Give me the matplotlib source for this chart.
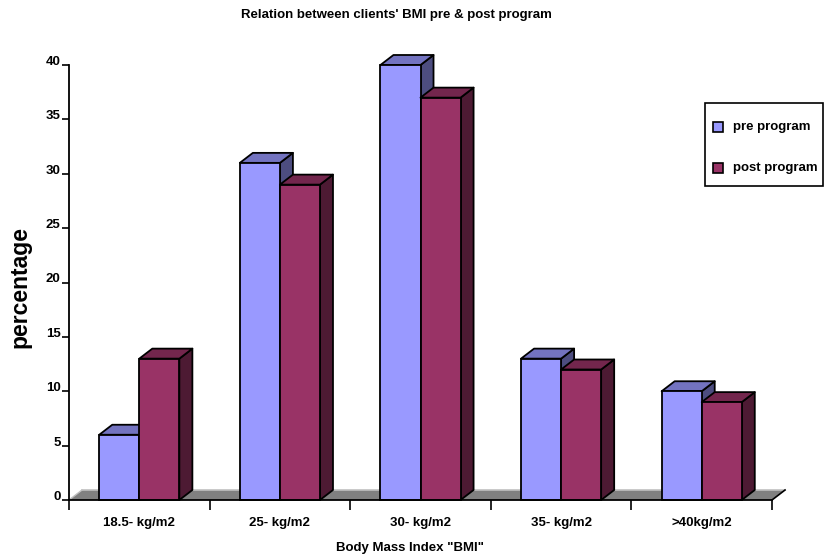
import matplotlib
matplotlib.use("Agg")
import matplotlib.pyplot as plt
from matplotlib.patches import Polygon, Rectangle

plt.rcParams["font.family"] = ["Liberation Sans", "DejaVu Sans"]
plt.rcParams["font.weight"] = "bold"

categories = ["18.5- kg/m2", "25- kg/m2", "30- kg/m2", "35- kg/m2", ">40kg/m2"]
series_names = ["pre program", "post program"]
pre_program = [6, 31, 40, 13, 10]
post_program = [13, 29, 37, 12, 9]

pre_colors = ("#9999FF", "#7373C0", "#4D4D80")     # front, top, side
post_colors = ("#993366", "#73264D", "#4D1A33")

W, H = 825, 560
fig = plt.figure(figsize=(W / 100, H / 100), dpi=100)
ax = fig.add_axes([69 / W, 60 / H, (772 - 69) / W, (500 - 65) / H])
ax.set_xlim(0, len(categories))
ax.set_ylim(0, 40)

# depth offset for the fake 3d look
dx = 13 / 140.4
dy = 10 / 10.875
bw = 40 / 140.4

# floor
n = len(categories)
ax.add_patch(Polygon([(0, 0), (n, 0), (n + dx, dy), (dx, dy)], closed=True,
                     facecolor="#808080", edgecolor="none", zorder=1, clip_on=False))
ax.plot([dx, n + dx], [dy, dy], color="#C0C0C0", lw=1.2, zorder=1, clip_on=False)
ax.plot([0, dx], [0, dy], color="#C0C0C0", lw=1, zorder=1, clip_on=False)
ax.plot([n, n + dx], [0, dy], color="black", lw=1.2, zorder=2, clip_on=False)


def box(x0, h, cols, z):
    x1 = x0 + bw
    side = [(x1, 0), (x1 + dx, dy), (x1 + dx, h + dy), (x1, h)]
    top = [(x0, h), (x0 + dx, h + dy), (x1 + dx, h + dy), (x1, h)]
    ax.add_patch(Polygon(side, closed=True, facecolor=cols[2], edgecolor="black",
                         lw=1.3, zorder=z, clip_on=False, joinstyle="round"))
    ax.add_patch(Polygon(top, closed=True, facecolor=cols[1], edgecolor="black",
                         lw=1.3, zorder=z, clip_on=False, joinstyle="round"))
    ax.bar(x0, h, width=bw, align="edge", color=cols[0], edgecolor="black",
           lw=1.3, zorder=z + 0.5, clip_on=False)


for i in range(n):
    c = i + 0.5
    box(c - bw, pre_program[i], pre_colors, 3 + i * 2)
    box(c, post_program[i], post_colors, 4 + i * 2)

for s in ["top", "right"]:
    ax.spines[s].set_visible(False)
ax.spines["left"].set_linewidth(1.3)
ax.spines["bottom"].set_linewidth(1.3)
ax.spines["left"].set_zorder(20)
ax.spines["bottom"].set_zorder(20)

ax.set_yticks(range(0, 41, 5))
ax.tick_params(axis="y", direction="out", length=5, width=1.2, labelsize=9.5, pad=1)
ax.set_xticks(range(n + 1))
ax.set_xticklabels([])
ax.tick_params(axis="x", which="major", direction="out", length=7, width=1.2)
ax.set_xticks([i + 0.5 for i in range(n)], minor=True)
ax.set_xticklabels(categories, minor=True)
ax.tick_params(axis="x", which="minor", length=0, labelsize=9.5, pad=12)
for lab in ax.get_yticklabels():
    lab.set_fontweight("bold")
    lab.set_va("baseline")
for lab in ax.get_xticklabels(minor=True):
    lab.set_fontweight("bold")

fig.text(396 / W, 1 - 15 / H, "Relation between clients' BMI pre & post program",
         ha="center", va="center", fontsize=9.5, fontweight="bold")
fig.text(20 / W, 1 - 287 / H, "percentage", rotation=90, ha="center", va="center",
         fontsize=16.5, fontweight="bold")
fig.text(410 / W, 1 - 548 / H, 'Body Mass Index "BMI"', ha="center", va="center",
         fontsize=9.5, fontweight="bold")

# legend, drawn by hand so the box matches the original
fig.patches.append(Rectangle((705 / W, 1 - 186 / H), 118 / W, 83 / H,
                             transform=fig.transFigure, facecolor="white",
                             edgecolor="black", lw=1.2))
for k, (name, cols) in enumerate(zip(series_names, [pre_colors, post_colors])):
    yc = 127 + k * 41
    fig.patches.append(Rectangle((713 / W, 1 - (yc + 5) / H), 10 / W, 10 / H,
                                 transform=fig.transFigure, facecolor=cols[0],
                                 edgecolor="black", lw=1.2))
    fig.text(733 / W, 1 - yc / H, name, ha="left", va="center", fontsize=9.5,
             fontweight="bold")

fig.savefig("out.png", dpi=100)
